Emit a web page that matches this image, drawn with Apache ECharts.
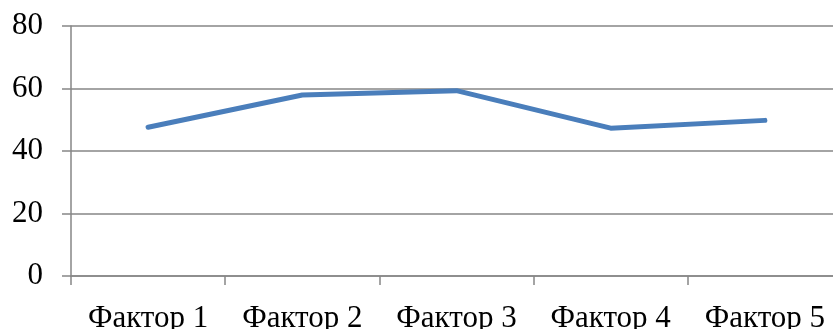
<!DOCTYPE html>
<html>
<head>
<meta charset="utf-8">
<script src="https://cdn.jsdelivr.net/npm/echarts@6/dist/echarts.min.js"></script>
<style>
    html, body { margin: 0; padding: 0; background: #fff; }
    #chart { width: 833px; height: 329px; }
</style>
</head>
<body>
<div id="chart"></div>
<script>
// данные
const categories = ["Фактор 1", "Фактор 2", "Фактор 3", "Фактор 4", "Фактор 5"];
const values = [47.6, 57.9, 59.3, 47.3, 49.8];

const chart = echarts.init(document.getElementById("chart"));
const font = "Liberation Serif";

chart.setOption({
    animation: false,
    grid: {
        left: 71,
        width: 771,
        top: 26,
        height: 250,
        containLabel: false,
        outerBoundsMode: "none",
    },
    xAxis: {
        type: "category",
        data: categories,
        boundaryGap: true,
        axisLine: { lineStyle: { color: "#868686", width: 1.5 } },
        axisTick: { show: true, length: 9, lineStyle: { color: "#868686", width: 1.5 } },
        axisLabel: {
            interval: 0,
            margin: 27,
            color: "#000",
            fontFamily: font,
            fontSize: 31,
            hideOverlap: false,
        },
    },
    yAxis: {
        type: "value",
        min: 0,
        max: 80,
        interval: 20,
        axisLine: { show: true, lineStyle: { color: "#868686", width: 1.5 } },
        axisTick: { show: true, length: 9, lineStyle: { color: "#868686", width: 1.5 } },
        splitLine: { lineStyle: { color: "#868686", width: 1.5 } },
        axisLabel: {
            margin: 28,
            color: "#000",
            fontFamily: font,
            fontSize: 31,
        },
    },
    series: [
        {
            type: "line",
            data: values,
            symbol: "none",
            lineStyle: { color: "#4A7EBB", width: 5, cap: "round", join: "round" },
        },
    ],
});
</script>
</body>
</html>
